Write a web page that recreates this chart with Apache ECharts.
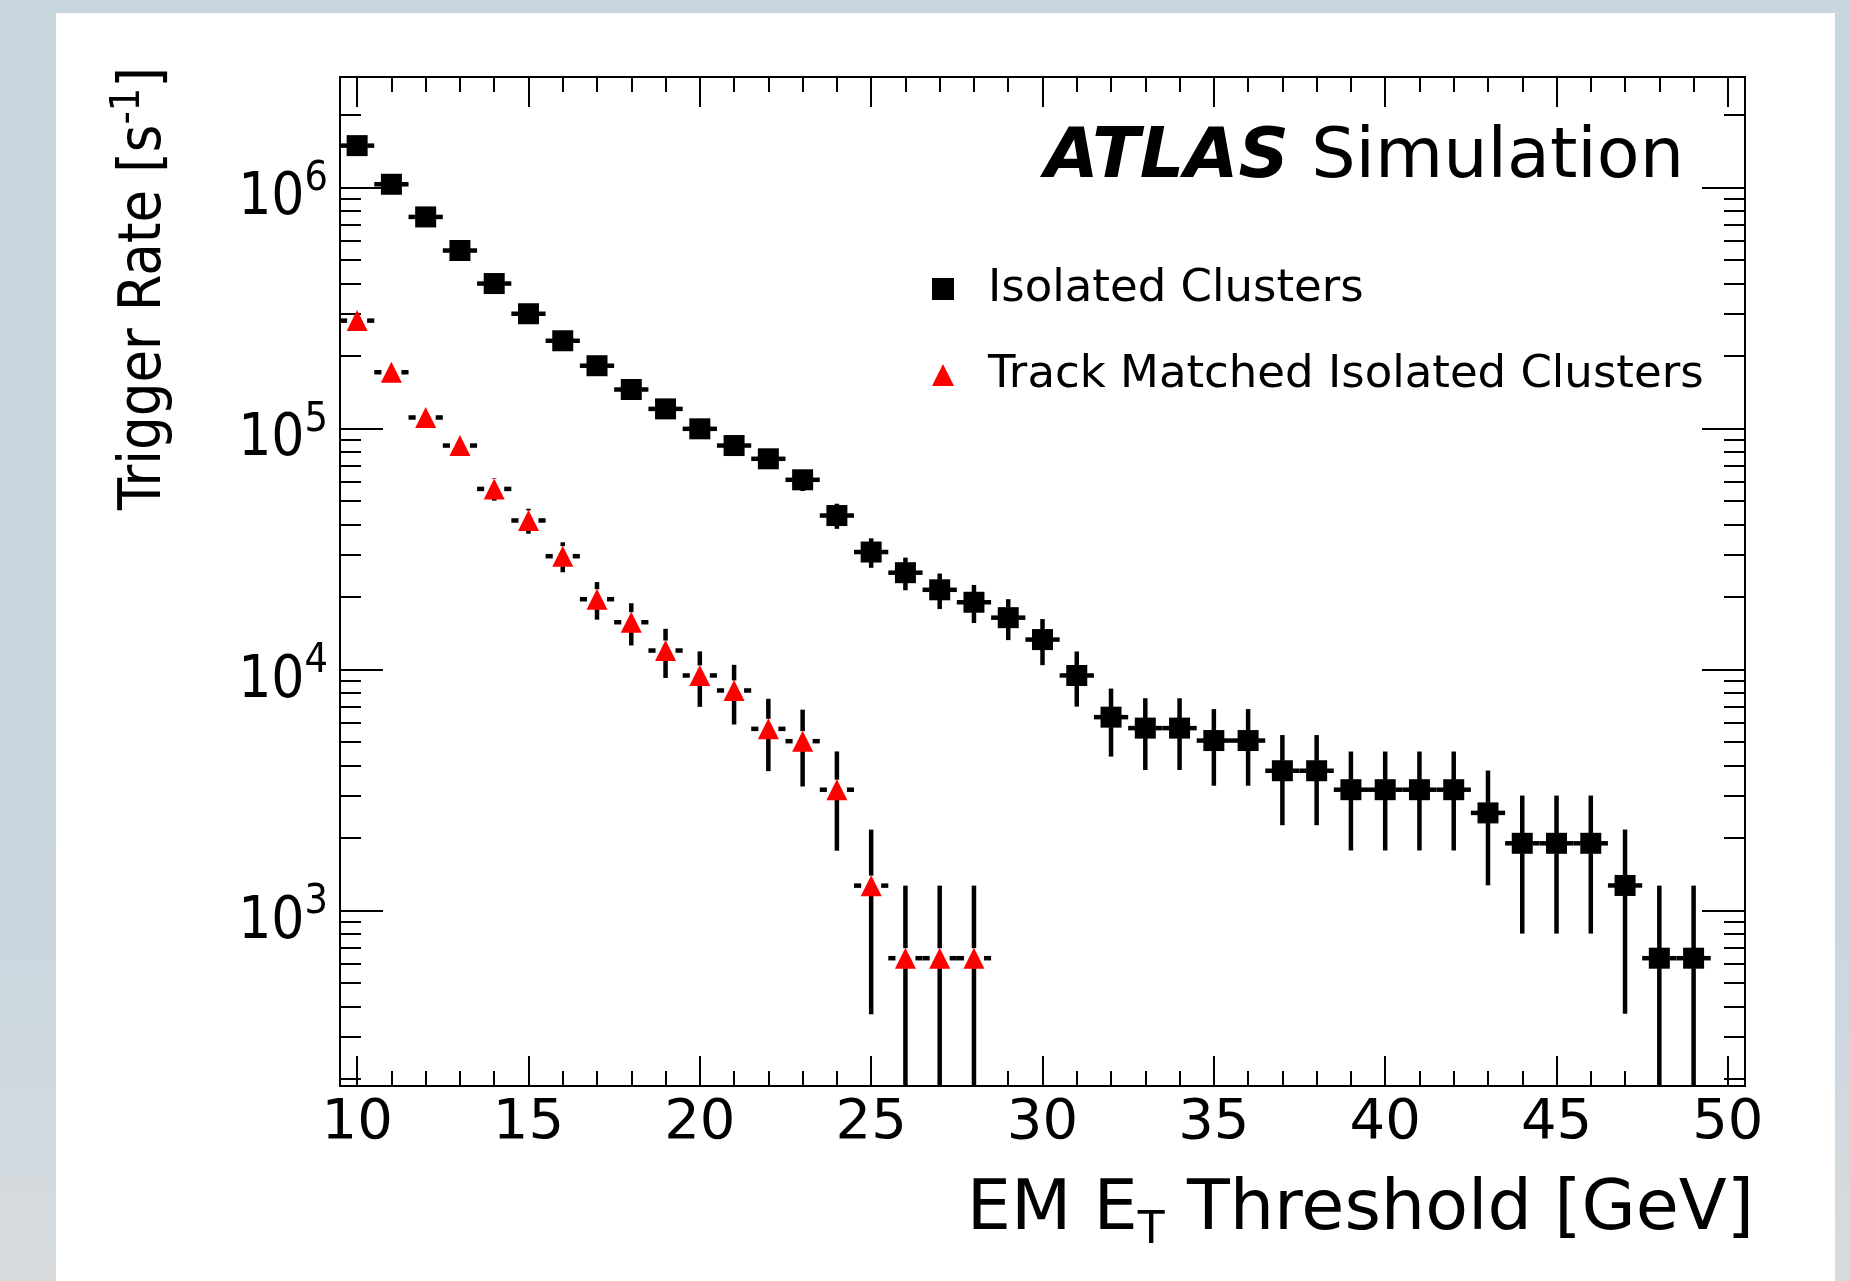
<!DOCTYPE html>
<html>
<head>
<meta charset="utf-8">
<script src="https://cdn.jsdelivr.net/npm/echarts@6/dist/echarts.min.js"></script>
<style>
html, body { margin: 0; padding: 0; width: 1849px; height: 1281px; overflow: hidden;
  background: linear-gradient(to bottom, #c8d6df 0%, #c9d6df 70%, #d7dbde 100%); }
#chart { position: absolute; left: 56px; top: 13px; width: 1779px; height: 1268px; background: #fff; }
</style>
</head>
<body>
<div id="chart"></div>
<script>
// EM ET threshold bins [GeV]
const thresholds = [10, 11, 12, 13, 14, 15, 16, 17, 18, 19, 20, 21, 22, 23, 24, 25, 26, 27, 28, 29,
  30, 31, 32, 33, 34, 35, 36, 37, 38, 39, 40, 41, 42, 43, 44, 45, 46, 47, 48, 49]

// Isolated Clusters: rate [s^-1] and its error
const isoRate = [1.49e6, 1.03e6, 7.54e5, 5.47e5, 3.99e5, 2.99e5, 2.31e5, 1.82e5, 1.45e5, 1.205e5,
  9.96e4, 8.49e4, 7.48e4, 6.12e4, 4.35e4, 3.07e4, 2.52e4, 2.14e4, 1.90e4, 1.64e4,
  1.33e4, 9.44e3, 6.34e3, 5.71e3, 5.71e3, 5.07e3, 5.07e3, 3.80e3, 3.80e3, 3.17e3,
  3.17e3, 3.17e3, 3.17e3, 2.54e3, 1.90e3, 1.90e3, 1.90e3, 1.27e3, 634, 634]
const isoErr = [30700, 25600, 21900, 18600, 15900, 13800, 12100, 10700, 9600, 8700,
  7950, 7340, 6890, 6230, 5200, 4300, 3900, 3600, 3420, 3165,
  2880, 2430, 1990, 1884, 1884, 1777, 1777, 1542, 1542, 1396,
  1396, 1396, 1396, 1268, 1098, 1098, 1098, 897, 634, 634]

// Track Matched Isolated Clusters
const trkThresholds = [10, 11, 12, 13, 14, 15, 16, 17, 18, 19, 20, 21, 22, 23, 24, 25, 26, 27, 28]
const trkRate = [2.80e5, 1.71e5, 1.11e5, 8.49e4, 5.61e4, 4.15e4, 2.95e4, 1.956e4, 1.57e4, 1.198e4,
  9.44e3, 8.18e3, 5.67e3, 5.04e3, 3.17e3, 1.268e3, 634, 634, 634]
const trkErr = [13300, 10400, 8400, 7340, 5960, 4930, 4200, 3470, 3125, 2760,
  2445, 2270, 1884, 1770, 1400, 897, 634, 634, 634]

// axis ticks
const xMajorTicks = [10, 15, 20, 25, 30, 35, 40, 45, 50]
const xMinorTicks = [10, 11, 12, 13, 14, 15, 16, 17, 18, 19, 20, 21, 22, 23, 24, 25, 26, 27, 28, 29, 30,
  31, 32, 33, 34, 35, 36, 37, 38, 39, 40, 41, 42, 43, 44, 45, 46, 47, 48, 49, 50]
const yMajorTicks = [1e3, 1e4, 1e5, 1e6]
const yMinorTicks = [200, 300, 400, 500, 600, 700, 800, 900,
  2000, 3000, 4000, 5000, 6000, 7000, 8000, 9000,
  2e4, 3e4, 4e4, 5e4, 6e4, 7e4, 8e4, 9e4,
  2e5, 3e5, 4e5, 5e5, 6e5, 7e5, 8e5, 9e5, 2e6]

const X_MIN = 9.5
const X_MAX = 50.5
const Y_MIN = 187
const Y_MAX = 2.87e6
const FONT = '"DejaVu Sans", "Liberation Sans", sans-serif'
const FONT_C = '"DejaVu Sans Condensed", "DejaVu Sans", "Liberation Sans", sans-serif'
const GAP = 10

const chart = echarts.init(document.getElementById('chart'))

// error bars like ROOT: leave a gap round the marker
const errorBarItem = (params, api) => {
  const x = api.value(0)
  const y = api.value(1)
  const err = api.value(2)
  const c = api.coord([x, y])
  const left = api.coord([x - 0.5, y])[0]
  const right = api.coord([x + 0.5, y])[0]
  const top = api.coord([x, y + err])[1]
  const bottom = api.coord([x, Math.max(y - err, Y_MIN)])[1]
  const style = { stroke: '#000', lineWidth: 4.5 }
  const seg = (x1, y1, x2, y2) => ({ type: 'line', shape: { x1, y1, x2, y2 }, style })
  const children = []
  if (c[0] - GAP > left) children.push(seg(left, c[1], c[0] - GAP, c[1]))
  if (c[0] + GAP < right) children.push(seg(c[0] + GAP, c[1], right, c[1]))
  if (top < c[1] - GAP) children.push(seg(c[0], top, c[0], c[1] - GAP))
  if (bottom > c[1] + GAP) children.push(seg(c[0], c[1] + GAP, c[0], bottom))
  return { type: 'group', children }
}

const axisLine = { show: true, lineStyle: { color: '#000', width: 2 } }
const xAxis = (position, ticks, length, withLine, withLabel) => ({
  type: 'value', position, min: X_MIN, max: X_MAX, gridIndex: 0,
  axisLine: withLine ? axisLine : { show: false },
  axisTick: { show: true, inside: true, length, customValues: ticks, lineStyle: { color: '#000', width: 2 } },
  axisLabel: withLabel
    ? { show: true, customValues: xMajorTicks, fontFamily: FONT, fontSize: 56, color: '#000', margin: 9 }
    : { show: false },
  splitLine: { show: false }
})
const yAxis = (position, ticks, length, withLine, withLabel) => ({
  type: 'log', position, min: Y_MIN, max: Y_MAX, logBase: 10, gridIndex: 0,
  axisLine: withLine ? axisLine : { show: false },
  axisTick: { show: true, inside: true, length, customValues: ticks, lineStyle: { color: '#000', width: 2 } },
  axisLabel: withLabel
    ? {
        show: true,
        customValues: yMajorTicks,
        margin: 12,
        padding: [12, 0, 0, 0],
        formatter: v => '{b|10}{e|' + Math.round(Math.log10(v)) + '}',
        rich: {
          b: { fontFamily: FONT_C, fontSize: 58, lineHeight: 70, verticalAlign: 'bottom', color: '#000' },
          e: { fontFamily: FONT_C, fontSize: 41, lineHeight: 41, verticalAlign: 'top', color: '#000' }
        }
      }
    : { show: false },
  splitLine: { show: false }
})

const option = {
  animation: false,
  backgroundColor: '#fff',
  grid: { left: 284, top: 64, width: 1405, height: 1009, containLabel: false },
  xAxis: [
    xAxis('bottom', xMajorTicks, 30, true, true),
    xAxis('bottom', xMinorTicks, 15, false, false),
    xAxis('top', xMajorTicks, 30, true, false),
    xAxis('top', xMinorTicks, 15, false, false)
  ],
  yAxis: [
    yAxis('left', yMajorTicks, 43, true, true),
    yAxis('left', yMinorTicks, 21, false, false),
    yAxis('right', yMajorTicks, 43, true, false),
    yAxis('right', yMinorTicks, 21, false, false)
  ],
  legend: {
    orient: 'vertical', left: 871, top: 246,
    itemWidth: 22, itemHeight: 22, itemGap: 36,
    selectedMode: false,
    data: [
      { name: 'Isolated Clusters', icon: 'rect' },
      { name: 'Track Matched Isolated Clusters', icon: 'triangle' }
    ],
    textStyle: { fontFamily: FONT, fontSize: 45, lineHeight: 50, color: '#000', padding: [0, 0, 0, 29] }
  },
  graphic: [
    {
      type: 'text', x: 1628, y: 146,
      style: {
        text: '{a|ATLAS}{s| Simulation}', align: 'right', verticalAlign: 'middle',
        rich: {
          a: { fontFamily: FONT, fontSize: 70, fontWeight: 'bold', fontStyle: 'italic', fill: '#000' },
          s: { fontFamily: FONT, fontSize: 70, fill: '#000' }
        }
      }
    },
    {
      type: 'text', x: 85, y: 54, rotation: Math.PI / 2,
      style: {
        text: '{t|Trigger Rate [s}{e|-1}{t|]}', align: 'right', verticalAlign: 'middle',
        rich: {
          t: { fontFamily: FONT_C, fontSize: 59, lineHeight: 67, verticalAlign: 'bottom', fill: '#000' },
          e: { fontFamily: FONT_C, fontSize: 41, lineHeight: 41, verticalAlign: 'top', fill: '#000' }
        }
      }
    },
    {
      type: 'text', x: 1698, y: 1202,
      style: {
        text: '{t|EM E}{s|T}{t| Threshold [GeV]}', align: 'right', verticalAlign: 'middle',
        rich: {
          t: { fontFamily: FONT, fontSize: 70, lineHeight: 70, verticalAlign: 'top', fill: '#000' },
          s: { fontFamily: FONT, fontSize: 44, lineHeight: 78, verticalAlign: 'bottom', fill: '#000' }
        }
      }
    }
  ],
  series: [
    {
      type: 'custom', name: 'iso-errors', xAxisIndex: 0, yAxisIndex: 0, z: 2,
      renderItem: errorBarItem,
      data: thresholds.map((t, i) => [t, isoRate[i], isoErr[i]]),
      encode: { x: 0, y: 1 }
    },
    {
      type: 'custom', name: 'trk-errors', xAxisIndex: 0, yAxisIndex: 0, z: 2,
      renderItem: errorBarItem,
      data: trkThresholds.map((t, i) => [t, trkRate[i], trkErr[i]]),
      encode: { x: 0, y: 1 }
    },
    {
      type: 'scatter', name: 'Isolated Clusters', xAxisIndex: 0, yAxisIndex: 0, z: 3,
      symbol: 'rect', symbolSize: 21, itemStyle: { color: '#000', opacity: 1 },
      data: thresholds.map((t, i) => [t, isoRate[i]])
    },
    {
      type: 'scatter', name: 'Track Matched Isolated Clusters', xAxisIndex: 0, yAxisIndex: 0, z: 3,
      symbol: 'triangle', symbolSize: 21, itemStyle: { color: '#ff0000', opacity: 1 },
      data: trkThresholds.map((t, i) => [t, trkRate[i]])
    }
  ]
}
chart.setOption(option)
</script>
</body>
</html>
